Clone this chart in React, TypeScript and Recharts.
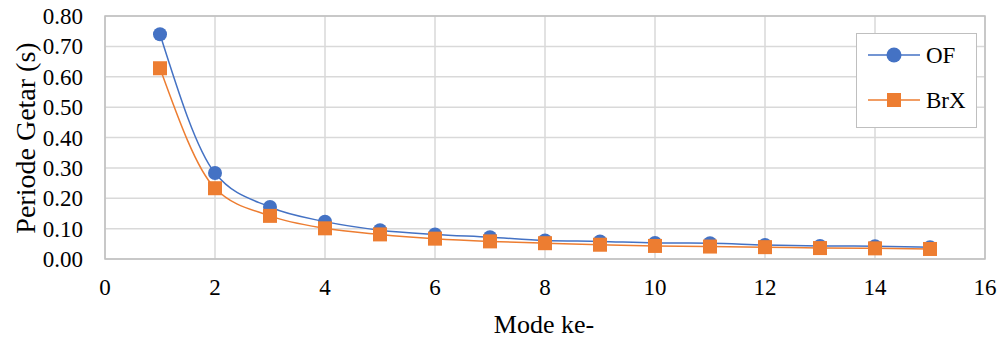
import React from 'react';
import { LineChart, Line, XAxis, YAxis, CartesianGrid, ReferenceArea, Label } from 'recharts';

const modes = [1, 2, 3, 4, 5, 6, 7, 8, 9, 10, 11, 12, 13, 14, 15];
const ofValues = [0.74, 0.283, 0.171, 0.123, 0.095, 0.081, 0.072, 0.061, 0.058, 0.053, 0.052, 0.046, 0.043, 0.042, 0.039];
const brxValues = [0.628, 0.233, 0.142, 0.101, 0.081, 0.067, 0.058, 0.052, 0.047, 0.043, 0.041, 0.039, 0.036, 0.035, 0.033];
const xTicks = [0, 2, 4, 6, 8, 10, 12, 14, 16];
const yTicks = [0, 0.1, 0.2, 0.3, 0.4, 0.5, 0.6, 0.7, 0.8];

const BLUE = '#4472C4';
const ORANGE = '#ED7D31';
const FONT = 'Liberation Serif, Times New Roman, DejaVu Serif, serif';
const txt = { fontFamily: FONT };

const data = modes.map((m, i) => ({ mode: m, OF: ofValues[i], BrX: brxValues[i] }));

const CircleDot = (props: any) => {
  const { cx, cy } = props;
  if (cx == null || cy == null) return null;
  return <circle cx={cx} cy={cy} r={7} fill={BLUE} stroke="none" />;
};

const SquareDot = (props: any) => {
  const { cx, cy } = props;
  if (cx == null || cy == null) return null;
  return <rect x={cx - 7} y={cy - 7} width={14} height={14} fill={ORANGE} stroke="none" />;
};

const XTick = (props: any) => {
  const { x, y, payload } = props;
  return (
    <text x={x} y={y} dy={30} textAnchor="middle" style={txt} fontSize={23} fill="#000">
      {payload.value}
    </text>
  );
};

const YTick = (props: any) => {
  const { x, y, payload } = props;
  return (
    <text x={x} y={y} dy="0.35em" textAnchor="end" style={txt} fontSize={23} fill="#000">
      {Number(payload.value).toFixed(2)}
    </text>
  );
};

const LegendBox = () => (
  <div
    style={{
      position: 'absolute',
      left: 856,
      top: 33,
      width: 121,
      height: 95,
      boxSizing: 'border-box',
      border: '1.5px solid #bfbfbf',
      background: '#fff',
    }}
  >
    <svg width={121} height={95} style={{ position: 'absolute', left: -1.5, top: -1.5 }}>
      <line x1={12} y1={22} x2={64} y2={22} stroke={BLUE} strokeWidth={1.5} />
      <circle cx={38} cy={22} r={7.5} fill={BLUE} />
      <text x={70} y={22} dy="0.35em" style={txt} fontSize={23} fill="#000">OF</text>
      <line x1={12} y1={67} x2={64} y2={67} stroke={ORANGE} strokeWidth={1.5} />
      <rect x={31} y={60} width={14} height={14} fill={ORANGE} />
      <text x={70} y={67} dy="0.35em" style={txt} fontSize={23} fill="#000">BrX</text>
    </svg>
  </div>
);

export default function App() {
  return (
    <div style={{ position: 'absolute', left: 0, top: 0, width: 1006, height: 341, background: '#fff', fontFamily: FONT }}>
      <LineChart width={1006} height={341} data={data} margin={{ top: 16, right: 21, bottom: 52, left: 0 }} style={txt}>
        <CartesianGrid stroke="#d9d9d9" strokeWidth={1.5} horizontal vertical />
        <ReferenceArea x1={0} x2={16} y1={0} y2={0.8} fill="none" stroke="#c0c0c0" strokeWidth={1.5} ifOverflow="visible" />
        <XAxis
          type="number"
          dataKey="mode"
          domain={[0, 16]}
          ticks={xTicks}
          tickLine={false}
          axisLine={false}
          tickMargin={0}
          tick={<XTick />}
          interval={0}
          height={30}
        >
          <Label
            content={() => (
              <text x={544} y={333} textAnchor="middle" style={txt} fontSize={26} fill="#000">
                Mode ke-
              </text>
            )}
          />
        </XAxis>
        <YAxis
          type="number"
          domain={[0, 0.8]}
          ticks={yTicks}
          width={105}
          tickLine={false}
          axisLine={false}
          tickMargin={16}
          tick={<YTick />}
          interval={0}
        >
          <Label
            content={() => (
              <text
                x={0}
                y={0}
                transform="translate(25, 138) rotate(-90)"
                textAnchor="middle"
                dy="0.35em"
                style={txt}
                fontSize={28}
                fill="#000"
              >
                Periode Getar (s)
              </text>
            )}
          />
        </YAxis>
        <Line
          type="monotone"
          dataKey="OF"
          stroke={BLUE}
          strokeWidth={1.5}
          dot={<CircleDot />}
          activeDot={false}
          isAnimationActive={false}
        />
        <Line
          type="monotone"
          dataKey="BrX"
          stroke={ORANGE}
          strokeWidth={1.5}
          dot={<SquareDot />}
          activeDot={false}
          isAnimationActive={false}
        />
      </LineChart>
      <LegendBox />
    </div>
  );
}
